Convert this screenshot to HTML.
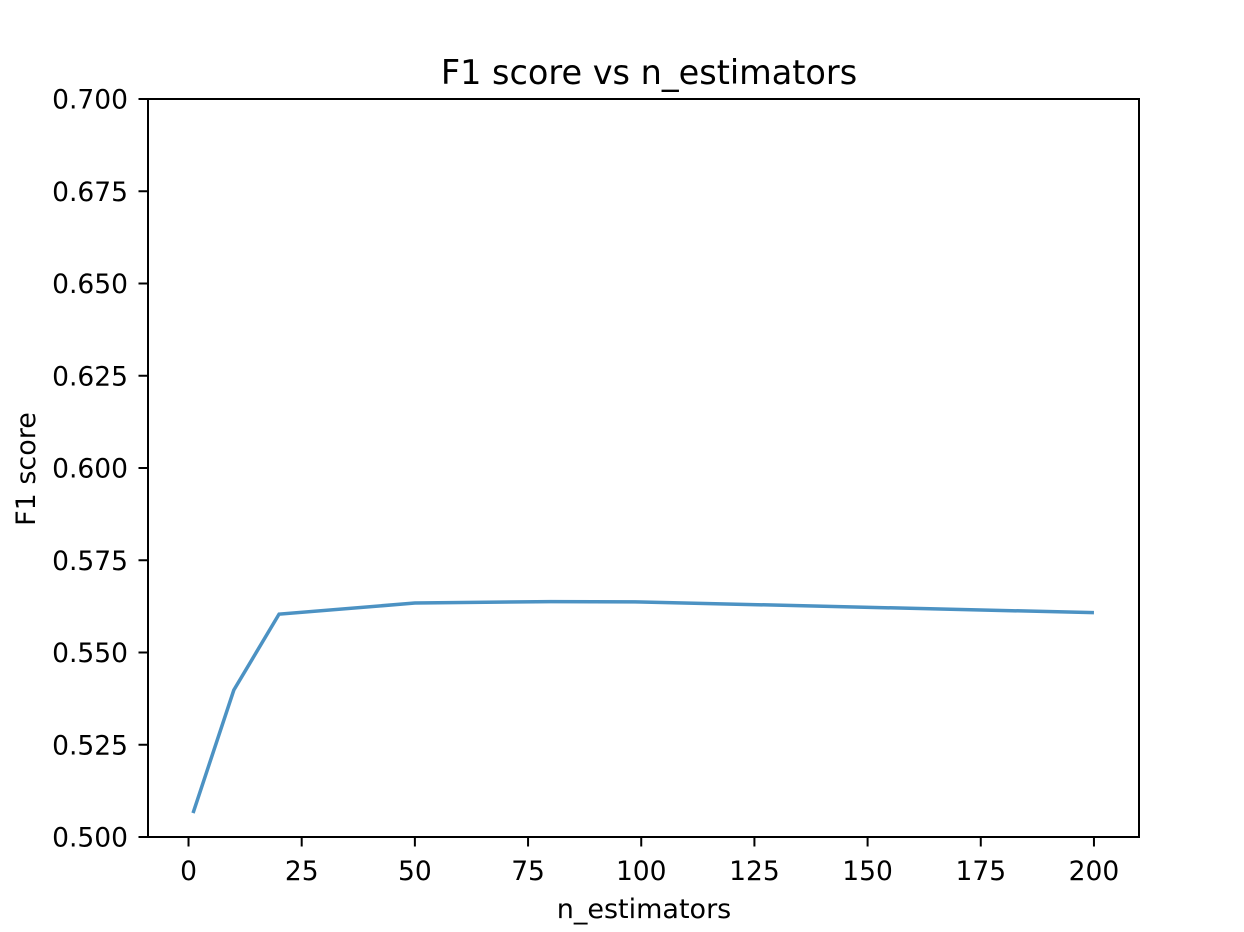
<!DOCTYPE html>
<html><head><meta charset="utf-8"><style>
body{margin:0;background:#fff;}
svg{display:block;font-family:"DejaVu Sans","Liberation Sans",sans-serif;}
</style></head><body>
<svg id="chart" width="1244" height="932">
<text x="649" y="84" font-size="33.5" text-anchor="middle">F1 score vs n_estimators</text>
<text x="644" y="918" font-size="27" text-anchor="middle">n_estimators</text>
<text transform="translate(35,469) rotate(-90)" font-size="27" text-anchor="middle">F1 score</text>
<g id="ticks"></g>
<polyline id="line" fill="none" stroke="#1f77b4" stroke-opacity="0.8" stroke-width="3.5"/>
<rect x="148" y="99" width="991" height="738" fill="none" stroke="#000" stroke-width="2"/>
</svg>
<script>
const nEstimators=[1,10,20,50,80,100,200];
const f1Scores=[0.5065,0.5398,0.5604,0.5634,0.5638,0.5637,0.5608];
const xTicks=[0,25,50,75,100,125,150,175,200];
const yTicks=[0.5,0.525,0.55,0.575,0.6,0.625,0.65,0.675,0.7];
const L=148,R=1139,T=99,B=837,xmin=-8.95,xmax=209.95,ymin=0.5,ymax=0.7;
const xs=v=>L+(v-xmin)/(xmax-xmin)*(R-L);
const ys=v=>B-(v-ymin)/(ymax-ymin)*(B-T);
const NS="http://www.w3.org/2000/svg";
const g=document.getElementById('ticks');
function mk(tag,attrs,txt){const e=document.createElementNS(NS,tag);for(const k in attrs)e.setAttribute(k,attrs[k]);if(txt!=null)e.textContent=txt;g.appendChild(e);return e;}
xTicks.forEach(v=>{const x=xs(v);
const t=mk('line',{x1:x,x2:x,y1:B,y2:B+9.5,stroke:'#000','stroke-width':2});


const l=mk('text',{x:x,y:B+43,'font-size':26.5,'text-anchor':'middle'},String(v));


});
yTicks.forEach(v=>{const y=ys(v);
const t=mk('line',{x1:L-9.5,x2:L,y1:y,y2:y,stroke:'#000','stroke-width':2});


const l=mk('text',{x:L-20,y:y+9.5,'font-size':26.5,'text-anchor':'end'},v.toFixed(3));


});
document.getElementById('line').setAttribute('points',nEstimators.map((x,i)=>xs(x)+','+ys(f1Scores[i])).join(' '));
</script>
</body></html>
